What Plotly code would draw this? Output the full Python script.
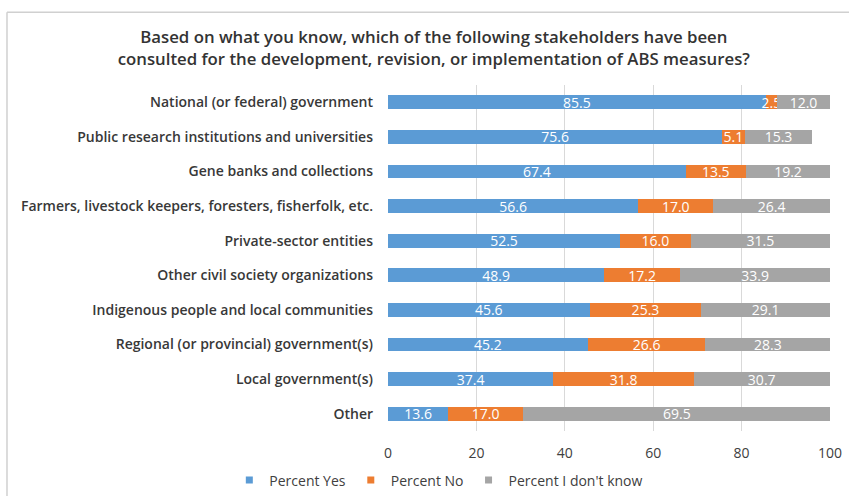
import plotly.graph_objects as go

# Stakeholder categories (top to bottom)
stakeholders = [
    "National (or federal) government",
    "Public research institutions and universities",
    "Gene banks and collections",
    "Farmers, livestock keepers, foresters, fisherfolk, etc.",
    "Private-sector entities",
    "Other civil society organizations",
    "Indigenous people and local communities",
    "Regional (or provincial) government(s)",
    "Local government(s)",
    "Other",
]
pct_yes = [85.5, 75.6, 67.4, 56.6, 52.5, 48.9, 45.6, 45.2, 37.4, 13.6]
pct_no = [2.5, 5.1, 13.5, 17.0, 16.0, 17.2, 25.3, 26.6, 31.8, 17.0]
pct_dont_know = [12.0, 15.3, 19.2, 26.4, 31.5, 33.9, 29.1, 28.3, 30.7, 69.5]
x_ticks = [0, 20, 40, 60, 80, 100]

series = [
    ("Percent Yes", pct_yes, "#5B9BD5"),
    ("Percent No", pct_no, "#ED7D31"),
    ("Percent I don't know", pct_dont_know, "#A5A5A5"),
]

FONT = "Open Sans"

fig = go.Figure()
for name, vals, color in series:
    fig.add_trace(go.Bar(
        y=stakeholders,
        x=vals,
        name=name,
        orientation="h",
        marker=dict(color=color, line=dict(width=0)),
        text=[f"{v:.1f}" for v in vals],
        textposition="inside",
        insidetextanchor="middle",
        textangle=0,
        constraintext="none",
        textfont=dict(family=FONT, size=14, color="white"),
        hoverinfo="skip",
        showlegend=False,
    ))
    # small square legend key for each series
    fig.add_trace(go.Scatter(
        x=[None], y=[None],
        mode="markers",
        name=name,
        marker=dict(symbol="square", size=7, color=color),
        showlegend=True,
        hoverinfo="skip",
    ))

fig.update_layout(
    barmode="stack",
    bargap=0.6,
    width=849,
    height=496,
    margin=dict(l=388, r=19, t=85, b=65, autoexpand=False),
    paper_bgcolor="white",
    plot_bgcolor="white",
    font=dict(family=FONT, color="#404040"),
    title=dict(
        text="Based on what you know, which of the following stakeholders have been<br>"
             "consulted for the development, revision, or implementation of ABS measures?",
        x=0.511, xanchor="center",
        y=0.913, yanchor="middle",
        font=dict(family=FONT, size=16.8, weight=600, color="#333333"),
    ),
    xaxis=dict(
        range=[0, 100],
        tickvals=x_ticks,
        showgrid=True,
        gridcolor="#D9D9D9",
        gridwidth=1,
        zeroline=False,
        showline=False,
        ticks="",
        ticklabelstandoff=12,
        automargin=False,
        tickfont=dict(family=FONT, size=14, color="#404040"),
    ),
    yaxis=dict(
        autorange="reversed",
        showgrid=False,
        showline=False,
        ticks="",
        ticklabelstandoff=14,
        automargin=False,
        tickfont=dict(family=FONT, size=14, weight=600, color="#383838"),
    ),
    legend=dict(
        orientation="h",
        x=-0.359, xanchor="left",
        y=-0.143, yanchor="middle",
        font=dict(family=FONT, size=14, color="#404040"),
        itemwidth=30,
        traceorder="normal",
        bgcolor="rgba(0,0,0,0)",
    ),
    showlegend=True,
)

# Outer chart frame
fig.add_shape(type="line", xref="paper", yref="paper",
              x0=-0.862, x1=1.1, y0=1.21, y1=1.21,
              line=dict(color="#D0D0D0", width=1.5))
fig.add_shape(type="line", xref="paper", yref="paper",
              x0=-0.862, x1=-0.862, y0=1.21, y1=-0.2,
              line=dict(color="#D0D0D0", width=1.5))

fig.write_html("out.html")
